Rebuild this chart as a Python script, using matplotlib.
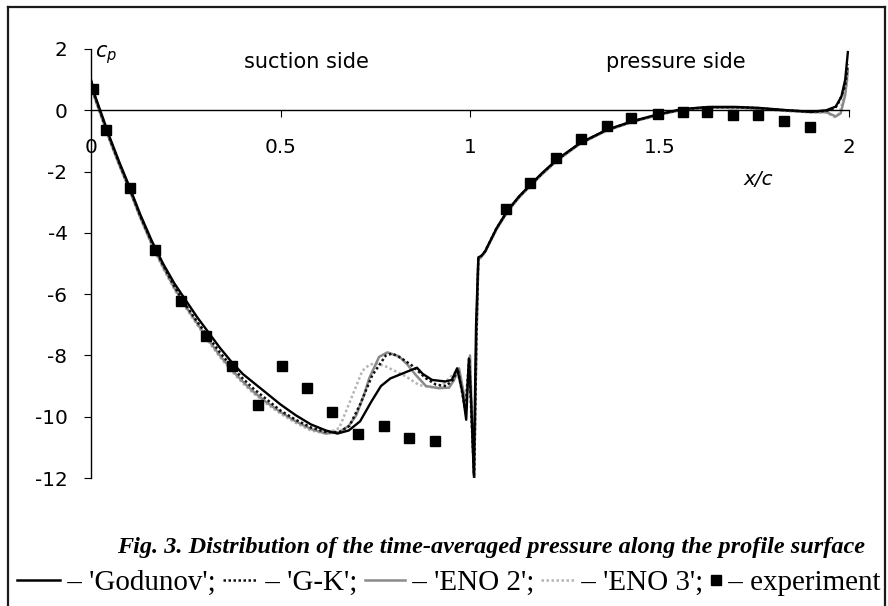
import matplotlib
matplotlib.use("Agg")
import matplotlib.pyplot as plt
from matplotlib.lines import Line2D

# ---------------- data ----------------
x_godunov = [0.0, 0.01, 0.03, 0.05, 0.075, 0.10, 0.13, 0.16, 0.19, 0.22, 0.25, 0.28, 0.31,
             0.34, 0.37, 0.40, 0.43, 0.46, 0.50, 0.54, 0.58, 0.62, 0.65, 0.68, 0.71, 0.74,
             0.765, 0.79, 0.83, 0.86, 0.875, 0.90, 0.935, 0.952, 0.966, 0.98, 0.99, 0.997,
             1.003, 1.010, 1.016, 1.022, 1.03, 1.04, 1.05, 1.07, 1.10, 1.13, 1.16, 1.19,
             1.23, 1.29, 1.36, 1.43, 1.50, 1.56, 1.63, 1.70, 1.76, 1.83, 1.90, 1.94, 1.965,
             1.98, 1.99, 1.997]
cp_godunov = [1.0, 0.5, -0.2, -0.9, -1.7, -2.45, -3.4, -4.25, -5.0, -5.65, -6.2, -6.75, -7.25,
              -7.75, -8.2, -8.6, -8.9, -9.2, -9.6, -9.95, -10.25, -10.45, -10.55, -10.45, -10.15, -9.5,
              -9.0, -8.75, -8.55, -8.4, -8.6, -8.8, -8.85, -8.8, -8.42, -9.2, -10.1, -8.1,
              -9.5, -11.9, -7.0, -4.8, -4.75, -4.6, -4.35, -3.85, -3.25, -2.8, -2.42, -2.05,
              -1.6, -1.07, -0.64, -0.35, -0.12, 0.04, 0.11, 0.11, 0.08, 0.01, -0.05, 0.0, 0.12,
              0.45, 1.0, 1.9]

x_gk = [0.0, 0.01, 0.03, 0.05, 0.075, 0.10, 0.13, 0.16, 0.19, 0.22, 0.25, 0.28, 0.31,
        0.34, 0.37, 0.40, 0.43, 0.46, 0.50, 0.54, 0.58, 0.62, 0.655, 0.682, 0.71, 0.742,
        0.778, 0.795, 0.82, 0.847, 0.884, 0.91, 0.937, 0.955, 0.968, 0.988, 0.998,
        1.004, 1.011, 1.017, 1.022, 1.03, 1.04, 1.05, 1.07, 1.10, 1.13, 1.16, 1.19,
        1.23, 1.29, 1.36, 1.43, 1.50, 1.56, 1.63, 1.70, 1.76, 1.83, 1.90, 1.94, 1.962,
        1.975, 1.99, 1.997]
cp_gk = [0.95, 0.45, -0.25, -0.95, -1.75, -2.5, -3.45, -4.3, -5.05, -5.75, -6.35, -6.9, -7.4,
         -7.9, -8.35, -8.75, -9.1, -9.4, -9.8, -10.1, -10.35, -10.5, -10.5, -10.3, -9.6, -8.65,
         -8.0, -7.94, -8.1, -8.33, -8.75, -8.95, -9.0, -8.8, -8.45, -9.8, -8.1,
         -10.0, -12.0, -7.3, -4.85, -4.75, -4.6, -4.35, -3.85, -3.27, -2.82, -2.44, -2.07,
         -1.62, -1.08, -0.65, -0.36, -0.13, 0.03, 0.1, 0.1, 0.07, 0.0, -0.05, -0.02, 0.05,
         0.3, 0.8, 1.5]

x_eno2 = [0.0, 0.01, 0.03, 0.05, 0.075, 0.10, 0.13, 0.16, 0.19, 0.22, 0.25, 0.28, 0.31,
          0.34, 0.37, 0.40, 0.43, 0.46, 0.50, 0.54, 0.58, 0.62, 0.655, 0.68, 0.70, 0.72,
          0.734, 0.76, 0.782, 0.813, 0.835, 0.857, 0.884, 0.918, 0.945, 0.958, 0.971, 0.989,
          1.0, 1.005, 1.011, 1.017, 1.022, 1.03, 1.04, 1.05, 1.07, 1.10, 1.13, 1.16, 1.19,
          1.23, 1.29, 1.36, 1.43, 1.50, 1.56, 1.63, 1.70, 1.76, 1.83, 1.90, 1.94, 1.965,
          1.978, 1.99, 1.997]
cp_eno2 = [0.9, 0.4, -0.3, -1.0, -1.8, -2.55, -3.5, -4.35, -5.1, -5.8, -6.4, -6.95, -7.5,
           -8.0, -8.45, -8.85, -9.2, -9.5, -9.85, -10.15, -10.4, -10.55, -10.5, -10.3, -9.95, -9.3,
           -8.75, -8.05, -7.9, -8.03, -8.3, -8.64, -9.0, -9.07, -9.05, -8.8, -8.42, -9.6,
           -8.0, -10.0, -12.0, -7.5, -4.85, -4.78, -4.62, -4.37, -3.88, -3.28, -2.83, -2.45, -2.08,
           -1.63, -1.09, -0.66, -0.37, -0.14, 0.02, 0.09, 0.09, 0.06, -0.01, -0.06, -0.06, -0.2,
           -0.1, 0.5, 1.3]

x_eno3 = [0.0, 0.01, 0.03, 0.05, 0.075, 0.10, 0.13, 0.16, 0.19, 0.22, 0.25, 0.28, 0.31,
          0.34, 0.37, 0.40, 0.43, 0.46, 0.50, 0.54, 0.58, 0.62, 0.655, 0.69, 0.716, 0.735,
          0.752, 0.778, 0.83, 0.866, 0.918, 0.953, 0.965, 0.988, 0.998, 1.004, 1.011, 1.017,
          1.022, 1.03, 1.04, 1.05, 1.07, 1.10, 1.13, 1.16, 1.19, 1.23, 1.29, 1.36, 1.43, 1.50,
          1.56, 1.63, 1.70, 1.76, 1.83, 1.90, 1.94, 1.962, 1.975, 1.99, 1.997]
cp_eno3 = [0.9, 0.4, -0.3, -1.0, -1.8, -2.55, -3.5, -4.4, -5.15, -5.85, -6.45, -7.0, -7.55,
           -8.05, -8.5, -8.9, -9.25, -9.55, -9.9, -10.2, -10.45, -10.55, -10.37, -9.3, -8.5, -8.3,
           -8.26, -8.36, -8.68, -8.97, -9.07, -8.65, -8.5, -9.5, -8.2, -10.0, -11.8, -7.6,
           -4.9, -4.8, -4.63, -4.38, -3.9, -3.3, -2.85, -2.47, -2.1, -1.65, -1.1, -0.67, -0.38, -0.15,
           0.01, 0.08, 0.08, 0.05, -0.02, -0.07, -0.07, -0.22, -0.1, 0.6, 1.1]

x_exp = [0.005, 0.04, 0.103, 0.168, 0.237, 0.303, 0.371, 0.44, 0.505, 0.571, 0.637, 0.705,
         0.774, 0.839, 0.908, 1.095, 1.158, 1.226, 1.292, 1.361, 1.426, 1.495, 1.561, 1.626,
         1.695, 1.76, 1.829, 1.897]
cp_exp = [0.68, -0.65, -2.54, -4.55, -6.24, -7.38, -8.36, -9.63, -8.33, -9.07, -9.85, -10.57,
          -10.31, -10.7, -10.8, -3.22, -2.37, -1.56, -0.94, -0.52, -0.26, -0.13, -0.07, -0.07,
          -0.15, -0.15, -0.36, -0.55]

xtick_vals = [0, 0.5, 1, 1.5, 2]
xtick_labels = ['0', '0.5', '1', '1.5', '2']
ytick_vals = [2, 0, -2, -4, -6, -8, -10, -12]
ytick_labels = ['2', '0', '-2', '-4', '-6', '-8', '-10', '-12']

caption = "Fig. 3. Distribution of the time-averaged pressure along the profile surface"

# ---------------- figure ----------------
W, H = 888, 606
plt.rcParams['axes.unicode_minus'] = False
plt.rcParams['mathtext.fontset'] = 'dejavusans'
fig = plt.figure(figsize=(W / 100, H / 100), dpi=100)
fig.patch.set_facecolor('white')


def fx(px):
    return px / W


def fy(py):
    return 1 - py / H


ax_l, ax_r = 91, 849
ax_t, ax_b = 49, 478
ax = fig.add_axes([fx(ax_l), fy(ax_b), (ax_r - ax_l) / W, (ax_b - ax_t) / H])
ax.set_xlim(0, 2)
ax.set_ylim(-12, 2)
ax.patch.set_alpha(0)

ax.plot(x_eno3, cp_eno3, color='#b4b4b4', lw=1.8, ls=(0, (1, 1)), zorder=2)
ax.plot(x_gk, cp_gk, color='#111111', lw=1.8, ls=(0, (1, 1)), zorder=3)
ax.plot(x_eno2, cp_eno2, color='#8a8a8a', lw=1.8, zorder=2.5)
ax.plot(x_godunov, cp_godunov, color='black', lw=1.7, zorder=4)
ax.plot(x_exp, cp_exp, ls='none', marker='s', color='black', ms=7.5, zorder=5)

for s in ['top', 'right']:
    ax.spines[s].set_visible(False)
ax.spines['bottom'].set_position(('data', 0))
ax.spines['left'].set_position(('data', 0))
for s in ['bottom', 'left']:
    ax.spines[s].set_linewidth(1.0)
    ax.spines[s].set_color('black')

ax.set_xticks(xtick_vals)
ax.set_xticklabels(xtick_labels)
ax.set_yticks(ytick_vals)
ax.set_yticklabels(ytick_labels)
ax.tick_params(axis='x', direction='out', length=5, width=0.8, pad=15, labelsize=14.4)
ax.tick_params(axis='y', direction='out', length=5, width=0.8, pad=12, labelsize=14.4)

ax.text(0.01, 1.71, r'$c_p$', fontsize=15, ha='left', va='baseline')
ax.text(1.76, -2.27, 'x/c', fontsize=14.4, style='italic', ha='center', va='center')
ax.text(0.568, 1.56, 'suction side', fontsize=15, ha='center', va='center')
ax.text(1.542, 1.56, 'pressure side', fontsize=15, ha='center', va='center')

# ---------------- outer frame ----------------
for xs, ys in [([8, 8], [7, 606]), ([8, 885], [7, 7]), ([885, 885], [7, 606])]:
    fig.add_artist(Line2D([fx(v) for v in xs], [fy(v) for v in ys],
                          transform=fig.transFigure, color='#1a1a1a', lw=1.6))

# ---------------- caption ----------------
fig.canvas.draw()
r = fig.canvas.get_renderer()

cap_size = 17
cap = fig.text(fx(491), fy(547), caption, fontsize=cap_size, family='Liberation Serif',
               weight='bold', style='italic', ha='center', va='center')
w = cap.get_window_extent(r).width
cap.set_fontsize(cap_size * 749 / w)

# ---------------- legend row ----------------
pieces = [('line', 'black', '-', 43), ('text', " – 'Godunov'; "),
          ('line', '#111111', (0, (1, 1)), 35), ('text', " – 'G-K'; "),
          ('line', '#8a8a8a', '-', 40), ('text', " – 'ENO 2'; "),
          ('line', '#b4b4b4', (0, (1, 1)), 33), ('text', " – 'ENO 3'; "),
          ('marker',), ('text', ' – experiment')]
leg_y = 580
x_start, x_end = 17, 878


def layout(size):
    arts = []
    x = x_start
    for p in pieces:
        if p[0] == 'line':
            ln = Line2D([fx(x), fx(x + p[3])], [fy(leg_y), fy(leg_y)], transform=fig.transFigure,
                        color=p[1], ls=p[2], lw=1.8)
            fig.add_artist(ln)
            arts.append(ln)
            x += p[3]
        elif p[0] == 'marker':
            ln = Line2D([fx(x + 5)], [fy(leg_y)], transform=fig.transFigure, marker='s', ms=7,
                        color='black', ls='none')
            fig.add_artist(ln)
            arts.append(ln)
            x += 10
        else:
            t = fig.text(fx(x), fy(leg_y), p[1], fontsize=size, family='Liberation Serif',
                         ha='left', va='center_baseline')
            arts.append(t)
            x += t.get_window_extent(r).width
    return arts, x


size = 16
for _ in range(3):
    arts, xe = layout(size)
    total = xe - x_start
    text_w = total - (43 + 35 + 40 + 33 + 10)
    target = (x_end - x_start) - (43 + 35 + 40 + 33 + 10)
    for a in arts:
        a.remove()
    size = size * target / text_w
arts, xe = layout(size)

fig.savefig('out.png', dpi=100)
